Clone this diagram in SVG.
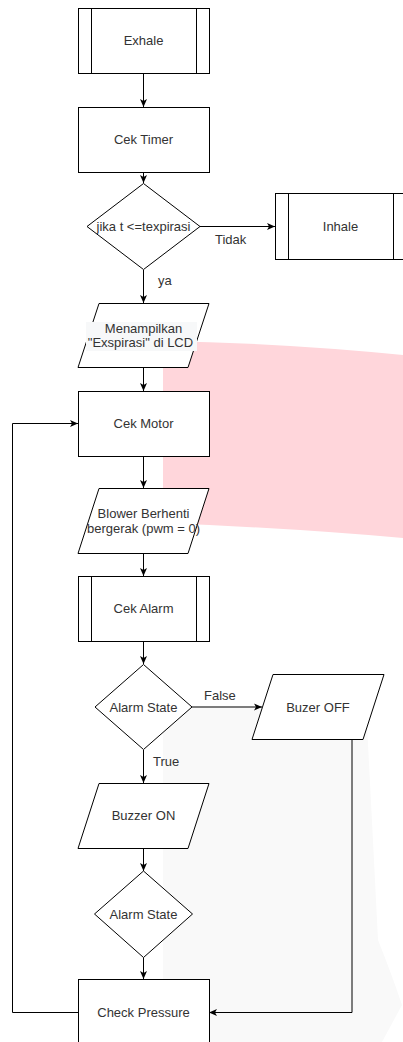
<svg xmlns="http://www.w3.org/2000/svg" width="403" height="1042" viewBox="0 0 403 1042">
  <style>
    .shape { fill: #ffffff; stroke: #000000; stroke-width: 1; }
    .sub { fill: none; stroke: #000000; stroke-width: 1; }
    .edge { fill: none; stroke: #000000; stroke-width: 1; }
    .lbl { font-family: "Liberation Sans", Arial, sans-serif; font-size: 13px; fill: #333333; text-anchor: middle; }
    .elbl { font-family: "Liberation Sans", Arial, sans-serif; font-size: 13px; fill: #333333; }
  </style>
  <defs>
    <marker id="arrow" viewBox="0 0 8 8" refX="8" refY="4" markerWidth="8" markerHeight="8" markerUnits="userSpaceOnUse" orient="auto">
      <path d="M0,0.5 L8,4 L0,7.5 L2,4 Z" fill="#000000"/>
    </marker>
  </defs>

  <rect width="403" height="1042" fill="#ffffff"/>

  <!-- background marks -->
  <g id="backdrop">
    <path d="M163,341 Q280,343 403,355 L403,538 Q290,528 163,523 Z" fill="#ffd6db"/>
    <path d="M163,706 L366,706 Q372,820 378,940 Q392,975 402,1005 L382,1042 L163,1042 Z" fill="#f9f9f9"/>
  </g>

  <!-- connectors -->
  <g id="connectors">
    <line class="edge" x1="143.5" y1="73" x2="143.5" y2="107" marker-end="url(#arrow)"/>
    <line class="edge" x1="143.5" y1="172" x2="143.5" y2="183" marker-end="url(#arrow)"/>
    <line class="edge" x1="200" y1="226.5" x2="275" y2="226.5" marker-end="url(#arrow)"/>
    <line class="edge" x1="143.5" y1="270" x2="143.5" y2="303" marker-end="url(#arrow)"/>
    <line class="edge" x1="143.5" y1="367" x2="143.5" y2="391" marker-end="url(#arrow)"/>
    <line class="edge" x1="143.5" y1="456" x2="143.5" y2="488" marker-end="url(#arrow)"/>
    <line class="edge" x1="143.5" y1="553" x2="143.5" y2="576" marker-end="url(#arrow)"/>
    <line class="edge" x1="143.5" y1="641" x2="143.5" y2="664" marker-end="url(#arrow)"/>
    <line class="edge" x1="192" y1="707" x2="262" y2="707" marker-end="url(#arrow)"/>
    <line class="edge" x1="143.5" y1="750" x2="143.5" y2="783" marker-end="url(#arrow)"/>
    <line class="edge" x1="143.5" y1="848" x2="143.5" y2="871" marker-end="url(#arrow)"/>
    <line class="edge" x1="143.5" y1="957.5" x2="143.5" y2="979" marker-end="url(#arrow)"/>
    <polyline class="edge" points="352,739 352,1012.5 209,1012.5" marker-end="url(#arrow)"/>
    <polyline class="edge" points="78,1012.5 12.5,1012.5 12.5,423.5 78,423.5" marker-end="url(#arrow)"/>
    <text class="elbl" x="215" y="244">Tidak</text>
    <text class="elbl" x="158" y="285">ya</text>
    <text class="elbl" x="204" y="700">False</text>
    <text class="elbl" x="153" y="766">True</text>
  </g>

  <!-- nodes -->
  <g id="exhale">
    <rect class="shape" x="78.5" y="8.5" width="131" height="65"/>
    <line class="sub" x1="91.5" y1="8.5" x2="91.5" y2="73.5"/>
    <line class="sub" x1="196.5" y1="8.5" x2="196.5" y2="73.5"/>
    <text class="lbl" x="143.5" y="45">Exhale</text>
  </g>

  <g id="cek-timer">
    <rect class="shape" x="78.5" y="107.5" width="131" height="65"/>
    <text class="lbl" x="143.5" y="144">Cek Timer</text>
  </g>

  <g id="cek-t-expirasi">
    <polygon class="shape" points="143.5,183.5 200,226.5 143.5,269.5 87,226.5"/>
    <text class="lbl" x="143.5" y="231">jika t &lt;=texpirasi</text>
  </g>

  <g id="inhale">
    <rect class="shape" x="275.5" y="193.5" width="131" height="66"/>
    <line class="sub" x1="288.5" y1="193.5" x2="288.5" y2="259.5"/>
    <line class="sub" x1="393.5" y1="193.5" x2="393.5" y2="259.5"/>
    <text class="lbl" x="340.5" y="231">Inhale</text>
  </g>

  <g id="tampil-lcd">
    <polygon class="shape" points="99,303.5 209,303.5 188,367.5 78,367.5"/>
    <rect x="86" y="322" width="111" height="29" fill="#f7f8f9"/>
    <text class="lbl" x="143.5" y="333">Menampilkan</text>
    <text class="lbl" x="140.5" y="347">"Exspirasi" di LCD</text>
  </g>

  <g id="cek-motor">
    <rect class="shape" x="78.5" y="391.5" width="131" height="65"/>
    <text class="lbl" x="143.5" y="428">Cek Motor</text>
  </g>

  <g id="blower-berhenti">
    <polygon class="shape" points="99,488.5 209,488.5 188,553.5 78,553.5"/>
    <text class="lbl" x="143.5" y="518">Blower Berhenti</text>
    <text class="lbl" x="143.5" y="533">bergerak (pwm = 0)</text>
  </g>

  <g id="cek-alarm">
    <rect class="shape" x="78.5" y="576.5" width="131" height="65"/>
    <line class="sub" x1="91.5" y1="576.5" x2="91.5" y2="641.5"/>
    <line class="sub" x1="196.5" y1="576.5" x2="196.5" y2="641.5"/>
    <text class="lbl" x="143.5" y="613">Cek Alarm</text>
  </g>

  <g id="alarm-state-1">
    <polygon class="shape" points="143.5,664.5 192,707 143.5,749.5 95,707"/>
    <text class="lbl" x="143.5" y="711.5">Alarm State</text>
  </g>

  <g id="buzer-off">
    <polygon class="shape" points="273,674.5 384,674.5 363,739.5 252,739.5"/>
    <text class="lbl" x="318" y="711.5">Buzer OFF</text>
  </g>

  <g id="buzzer-on">
    <polygon class="shape" points="99,783.5 209,783.5 188,848.5 78,848.5"/>
    <text class="lbl" x="143.5" y="820">Buzzer ON</text>
  </g>

  <g id="alarm-state-2">
    <polygon class="shape" points="143.5,871 192.5,914 143.5,957.5 94.5,914"/>
    <text class="lbl" x="143.5" y="918.5">Alarm State</text>
  </g>

  <g id="check-pressure">
    <rect class="shape" x="78.5" y="979.5" width="131" height="66"/>
    <text class="lbl" x="143.5" y="1016.5">Check Pressure</text>
  </g>
</svg>
